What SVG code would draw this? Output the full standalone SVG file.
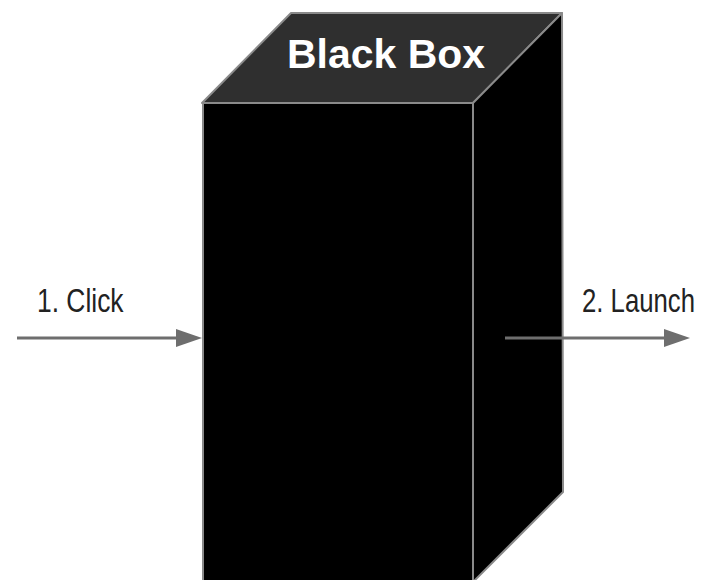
<svg xmlns="http://www.w3.org/2000/svg" width="708" height="580" viewBox="0 0 708 580">
<style>
.lbl{font-family:"Liberation Sans",Arial,sans-serif;font-size:33px;fill:#222}
.title{font-family:"Liberation Sans","DejaVu Sans",sans-serif;font-weight:bold;font-size:41px;fill:#fff}
.edge{stroke:#6e6e6e;stroke-width:3;fill:none}
.face{stroke:#8a8a8a;stroke-width:2;stroke-linejoin:round}
</style>
<rect width="708" height="580" fill="#fff"/>
<g id="blackbox">
<polygon class="face" points="202,103 291,13 562,13 473,103" fill="#2f2f2f"/>
<polygon class="face" points="473,103 562,13 563,492 473,582" fill="#000"/>
<rect class="face" x="203" y="103" width="270" height="478" fill="#000"/>
<text class="title" x="386" y="68" text-anchor="middle" textLength="198" lengthAdjust="spacingAndGlyphs">Black Box</text>
</g>
<g id="connectors">
<line class="edge" x1="17" y1="338" x2="178" y2="338"/>
<path d="M176,329 L202,338 L176,347 Z" fill="#6e6e6e"/>
<line class="edge" x1="505" y1="338" x2="666" y2="338"/>
<path d="M664,329 L690,338 L664,347 Z" fill="#6e6e6e"/>
</g>
<g id="label-click" transform="translate(37,312) scale(0.8,1)">
<text class="lbl" x="0" y="0">1. Click</text>
</g>
<g id="label-launch" transform="translate(582,312) scale(0.78,1)">
<text class="lbl" x="0" y="0">2. Launch</text>
</g>
</svg>
